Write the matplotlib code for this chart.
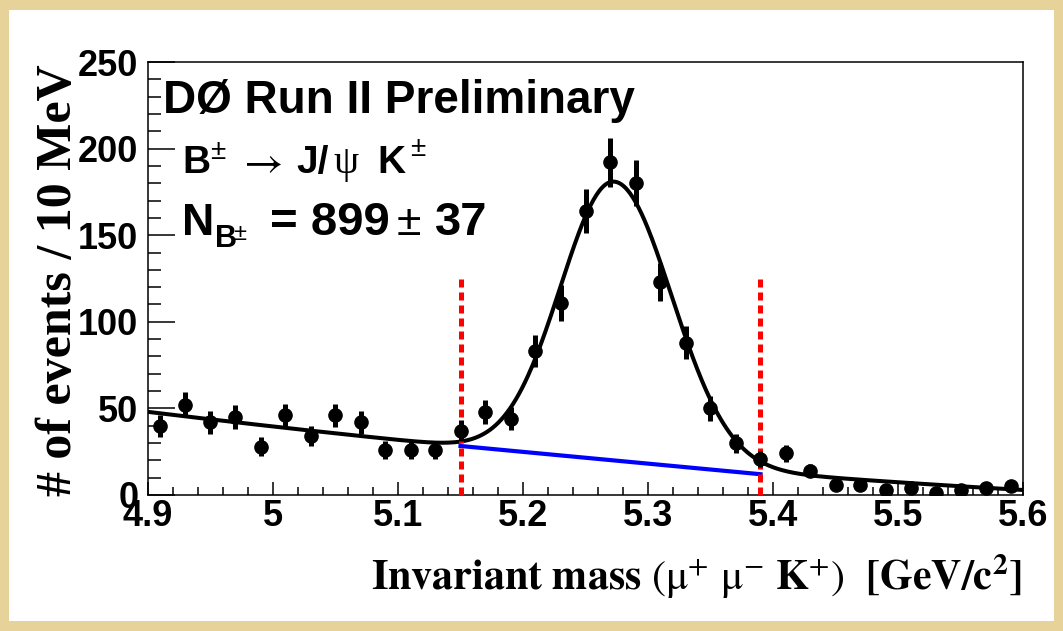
"""DØ Run II — B± → J/ψ K± invariant mass fit, recreated."""
import numpy as np
import matplotlib
matplotlib.use("Agg")
import matplotlib.pyplot as plt
from matplotlib.patches import Rectangle
from matplotlib.ticker import MultipleLocator

# bin centres [GeV/c^2] and counts
MASS = [4.91, 4.93, 4.95, 4.97, 4.99, 5.01, 5.03, 5.05, 5.07, 5.09, 5.11, 5.13,
        5.15, 5.17, 5.19, 5.21, 5.23, 5.25, 5.27, 5.29, 5.31, 5.33, 5.35, 5.37,
        5.39, 5.41, 5.43, 5.45, 5.47, 5.49, 5.51, 5.53, 5.55, 5.57, 5.59]
COUNTS = [40, 52, 42, 45, 28, 46, 34, 46, 42, 26, 26, 26,
          37, 48, 44, 83, 111, 164, 192, 180, 123, 88, 50, 30,
          21, 24, 14, 6, 6, 3, 4, 1, 3, 4, 5]
ERRORS = [6.3, 7.2, 6.5, 6.7, 5.3, 6.8, 5.8, 6.8, 6.5, 5.1, 5.1, 5.1,
          6.1, 6.9, 6.6, 9.1, 10.5, 12.8, 13.9, 13.4, 11.1, 9.4, 7.1, 5.5,
          4.6, 4.9, 3.7, 2.4, 2.4, 1.7, 2.0, 1.0, 1.7, 2.0, 2.2]

# fit: bifurcated gaussian signal + quadratic background in (m - 4.9)
SIG_MEAN = 5.273
SIG_WIDTH_L = 0.043
SIG_WIDTH_R = 0.046
SIG_AMP = 161.0
BKG_COEF = [48.0, -87.6, 33.1]

# background under the signal window, and window edges
BKG_LINE_M = [5.15, 5.39]
BKG_LINE_N = [28.3, 12.0]
WINDOW = [5.15, 5.39]
WINDOW_TOP = 125

XTICKS = [4.9, 5.0, 5.1, 5.2, 5.3, 5.4, 5.5, 5.6]
XTICKLABELS = ["4.9", "5", "5.1", "5.2", "5.3", "5.4", "5.5", "5.6"]
YTICKS = [0, 50, 100, 150, 200, 250]

W, H = 1063, 631


def fit_curve(m):
    t = m - 4.9
    bkg = BKG_COEF[0] + BKG_COEF[1] * t + BKG_COEF[2] * t ** 2
    sig = np.where(m < SIG_MEAN, SIG_WIDTH_L, SIG_WIDTH_R)
    return bkg + SIG_AMP * np.exp(-0.5 * ((m - SIG_MEAN) / sig) ** 2)


fig = plt.figure(figsize=(W / 100, H / 100), dpi=100)
fig.patch.set_facecolor("#e7d29a")
fig.add_artist(Rectangle((9 / W, 10 / H), (1054 - 9) / W, (621 - 10) / H,
                         transform=fig.transFigure, facecolor="white",
                         edgecolor="none", zorder=-5))

ax = fig.add_axes([148 / W, (H - 495) / H, (1023 - 148) / W, (495 - 62) / H])
ax.set_facecolor("white")

mm = np.linspace(4.9, 5.6, 600)
ax.plot(mm, fit_curve(mm), color="black", lw=2.9, zorder=3)
ax.plot(BKG_LINE_M, BKG_LINE_N, color="#0000ff", lw=3.0, zorder=3)
for xw in WINDOW:
    ax.plot([xw, xw], [0, WINDOW_TOP], color="#ff0000", lw=3.6,
            ls=(0, (1.6, 1.0)), zorder=4, clip_on=False)
ax.errorbar(MASS, COUNTS, yerr=ERRORS, fmt="o", color="black", ms=9.5,
            elinewidth=3.6, capsize=0, zorder=5)

ax.set_xlim(4.9, 5.6)
ax.set_ylim(0, 250)
ax.set_xticks(XTICKS)
ax.set_xticklabels(XTICKLABELS)
ax.set_yticks(YTICKS)
ax.xaxis.set_minor_locator(MultipleLocator(0.02))
ax.yaxis.set_minor_locator(MultipleLocator(10))
ax.tick_params(which="both", direction="in", top=False, right=False, width=1.1)
ax.tick_params(axis="y", which="major", length=19.5, pad=7)
ax.tick_params(axis="y", which="minor", length=9.5)
ax.tick_params(axis="x", which="major", length=9.5, pad=3)
ax.tick_params(axis="x", which="minor", length=5.8)
for lab in ax.get_xticklabels() + ax.get_yticklabels():
    lab.set_fontfamily("Liberation Sans")
    lab.set_fontweight("bold")
    lab.set_fontsize(26)
for sp in ax.spines.values():
    sp.set_linewidth(1.1)


def put(x, y, s, size, bold=True, family="Liberation Sans", **kw):
    """Place text with its left baseline at reference pixel (x, y)."""
    ax.text((x - 148) / 875, (495 - y) / 433, s, fontsize=size,
            family=family, fontweight="bold" if bold else "normal",
            ha=kw.pop("ha", "left"), va="baseline", transform=ax.transAxes,
            color="black", **kw)


put(163, 113, "DØ Run II Preliminary", 33)

# B± → J/ψ K±
put(182, 173, "B", 28)
put(210, 159, "±", 20, bold=False)
put(237, 173, r"$\rightarrow$", 31, bold=False, math_fontfamily="stix")
put(296, 173, "J/", 28)
put(333, 173, "ψ", 29, bold=False, family="Liberation Serif")
put(377, 173, "K", 28)
put(410, 156, "±", 20, bold=False)

# N_B± = 899 ± 37
put(182, 235, "N", 32)
put(215, 247, "B", 22)
put(233, 240, "±", 17, bold=False)
put(270, 235, "= 899", 34)
put(397, 235, "±", 32, bold=False)
put(435, 235, "37", 34)

ax.text(-0.1017, 0.4965, "# of events / 10 MeV", rotation=90, ha="center",
        va="center", family="Liberation Serif", fontweight="bold", fontsize=36,
        transform=ax.transAxes)
put(1022, 590,
    r"$\mathbf{Invariant\ mass\ }(\mathrm{\mu}^{+}\ \mathrm{\mu}^{-}\ \mathbf{K}^{+})\ \ \mathbf{[GeV/c}^{\mathbf{2}}\mathbf{]}$",
    30.3, bold=False, ha="right", math_fontfamily="stix")

fig.savefig("out.png", dpi=100, facecolor=fig.get_facecolor())
